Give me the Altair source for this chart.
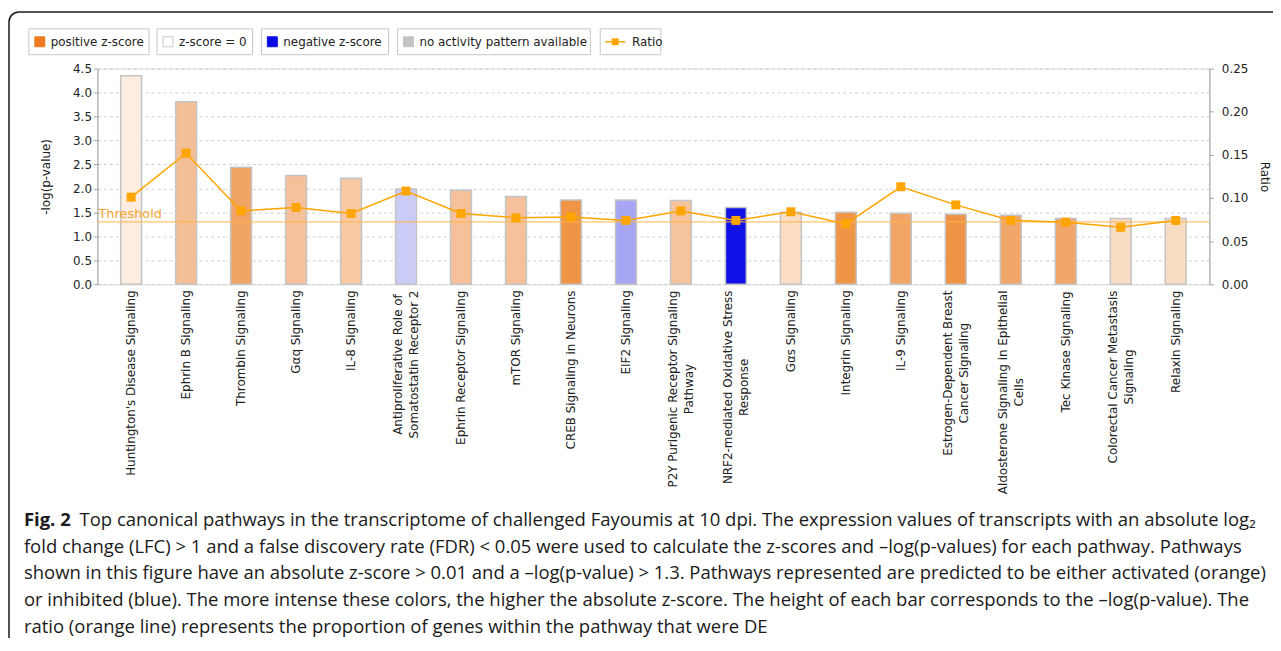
import altair as alt
import pandas as pd

# ---------------- data ----------------
pathways = [
    "Huntington's Disease Signaling", "Ephrin B Signaling", "Thrombin Signaling",
    "Gαq Signaling", "IL-8 Signaling",
    "Antiproliferative Role of\nSomatostatin Receptor 2", "Ephrin Receptor Signaling",
    "mTOR Signaling", "CREB Signaling in Neurons", "EIF2 Signaling",
    "P2Y Purigenic Receptor Signaling\nPathway", "NRF2-mediated Oxidative Stress\nResponse",
    "Gαs Signaling", "Integrin Signaling", "IL-9 Signaling",
    "Estrogen-Dependent Breast\nCancer Signaling", "Aldosterone Signaling in Epithelial\nCells",
    "Tec Kinase Signaling", "Colorectal Cancer Metastasis\nSignaling", "Relaxin Signaling",
]
neg_log_p = [4.35, 3.81, 2.44, 2.27, 2.21, 1.99, 1.96, 1.83, 1.76, 1.76,
             1.75, 1.60, 1.50, 1.50, 1.48, 1.46, 1.44, 1.37, 1.37, 1.37]
ratio = [0.101, 0.152, 0.085, 0.089, 0.082, 0.108, 0.082, 0.077, 0.078, 0.074,
         0.085, 0.074, 0.084, 0.070, 0.113, 0.092, 0.074, 0.072, 0.066, 0.074]
bar_colors = ["#fdece0", "#f5bf96", "#f0a466", "#f5c09a", "#f7c9a5",
              "#cbcbf7", "#f5c09a", "#f5c09a", "#ef9545", "#a6a6f4",
              "#f5c39c", "#1010e8", "#fbddc5", "#ef9548", "#f1a668",
              "#ef9447", "#f1a66a", "#f1a66a", "#f9dcc4", "#f9dcc4"]
threshold = [1.3]
y_ticks = [0.0, 0.5, 1.0, 1.5, 2.0, 2.5, 3.0, 3.5, 4.0, 4.5]
ratio_ticks = [0.0, 0.05, 0.10, 0.15, 0.20, 0.25]

legend_labels = ["positive z-score", "z-score = 0", "negative z-score",
                 "no activity pattern available", "Ratio"]
legend_colors = ["#ee7a20", "#ffffff", "#0a0ae6", "#c3c3c3", "#ffa500"]

caption_bold = "Fig. 2"
caption_lines = [
    "Top canonical pathways in the transcriptome of challenged Fayoumis at 10 dpi. The expression values of transcripts with an absolute log₂",
    "fold change (LFC) > 1 and a false discovery rate (FDR) < 0.05 were used to calculate the z-scores and –log(p-values) for each pathway. Pathways",
    "shown in this figure have an absolute z-score > 0.01 and a –log(p-value) > 1.3. Pathways represented are predicted to be either activated (orange)",
    "or inhibited (blue). The more intense these colors, the higher the absolute z-score. The height of each bar corresponds to the –log(p-value). The",
    "ratio (orange line) represents the proportion of genes within the pathway that were DE",
]

# ---------------- layout ----------------
W, H = 1119, 217
PADL, PADT = 90, 59
TOTAL_W, TOTAL_H = 1273, 630
FONT = "DejaVu Sans"
CAP_FONT = "Open Sans"
CAP_SIZE = 18.6

_w = {" ": .318, "'": .275, "(": .390, ")": .390, "-": .361, ".": .318,
      "A": .684, "B": .686, "C": .698, "D": .770, "E": .632, "F": .575, "G": .775,
      "H": .752, "I": .295, "K": .656, "L": .557, "M": .863, "N": .748, "O": .787,
      "P": .603, "R": .695, "S": .635, "T": .611, "Y": .611,
      "a": .613, "b": .635, "c": .550, "d": .635, "e": .615, "f": .352, "g": .635,
      "h": .634, "i": .278, "k": .579, "l": .278, "m": .974, "n": .634, "o": .612,
      "p": .635, "q": .635, "r": .411, "s": .521, "t": .392, "u": .634, "v": .592,
      "w": .818, "x": .592, "y": .592, "z": .525, "α": .659}


def text_width(s, size):
    return sum(_w.get(c, .636) for c in s) * size


df = pd.DataFrame({"pathway": pathways, "nlp": neg_log_p, "ratio": ratio, "color": bar_colors})
df["label_y"] = [H + 6 + max(text_width(l, 12) for l in p.split("\n")) / 2 for p in pathways]
df["nlines"] = [len(p.split("\n")) for p in pathways]

x_enc = alt.X("pathway:N", sort=pathways, axis=None,
              scale=alt.Scale(paddingInner=0, paddingOuter=0.113))

one = pd.DataFrame({"a": [0]})

# frame
frame = alt.Chart(one).mark_rect(fillOpacity=0, stroke="#1a1a1a", strokeWidth=1.5,
                                 cornerRadius=10).encode(
    x=alt.value(-89), x2=alt.value(1300), y=alt.value(-57), y2=alt.value(620))

# bars + threshold (all sharing the left axis)
left_axis = alt.Axis(title="-log(p-value)", values=y_ticks, tickCount=10, format=".1f",
                     labelOverlap=False,
                     grid=True, gridDash=[3, 3], gridColor="#cfcfcf",
                     domainColor="#a0a0a0", tickColor="#a0a0a0", tickSize=4,
                     labelFont=FONT, labelFontSize=12, labelColor="#222",
                     labelPadding=2, titleFont=FONT, titleFontSize=12,
                     titleFontWeight="normal", titleColor="#222",
                     titleAngle=270, titleX=-52, titleY=H / 2,
                     titleAlign="center", titleBaseline="middle")
left_scale = alt.Scale(domain=[0, 4.5], nice=False)

bars = alt.Chart(df).mark_bar(size=21, stroke="#c4c4c4", strokeWidth=1.5).encode(
    x=x_enc,
    y=alt.Y("nlp:Q", scale=left_scale, axis=left_axis),
    color=alt.Color("color:N", scale=None),
)
thr_df = pd.DataFrame({"thr": threshold})
thr_rule = alt.Chart(thr_df).mark_rule(color="#ffb447", strokeWidth=1).encode(
    y=alt.Y("thr:Q", scale=left_scale, axis=left_axis))
thr_text = alt.Chart(thr_df).mark_text(align="left", baseline="bottom", font=FONT,
                                       fontSize=13, color="#f7a632", dy=-1).encode(
    x=alt.value(1), y=alt.Y("thr:Q", scale=left_scale, axis=left_axis),
    text=alt.value("Threshold"))
layer_a = alt.layer(bars, thr_rule, thr_text)

# ratio line
ratio_y = alt.Y("ratio:Q", scale=alt.Scale(domain=[0, 0.25], nice=False),
                axis=alt.Axis(orient="right", title="Ratio", values=ratio_ticks, tickCount=6,
                              format=".2f", grid=False, labelOverlap=False,
                              domainColor="#a0a0a0",
                              tickColor="#a0a0a0", tickSize=4, labelFont=FONT,
                              labelFontSize=12, labelColor="#222", labelPadding=8,
                              titleFont=FONT, titleFontSize=12, titleFontWeight="normal",
                              titleColor="#222", titleAngle=90, titleX=55,
                              titleY=H / 2, titleAlign="center", titleBaseline="middle"))
line = alt.Chart(df).mark_line(color="#ffa500", strokeWidth=1.5).encode(x=x_enc, y=ratio_y)
pts = alt.Chart(df).mark_point(shape="square", filled=True, size=81, color="#ffa500",
                               opacity=1).encode(x=x_enc, y=ratio_y)
layer_b = alt.layer(line, pts)

# category labels (one-line and two-line separately, two-line block centred)
lab_props = dict(angle=270, align="center", baseline="middle", lineBreak="\n", font=FONT,
                 fontSize=12, lineHeight=16, color="#222")
labels1 = alt.Chart(df).transform_filter("datum.nlines == 1").mark_text(**lab_props).encode(
    x=x_enc, y=alt.Y("label_y:Q", scale=None), text="pathway:N")
labels2 = alt.Chart(df).transform_filter("datum.nlines == 2").mark_text(dy=-8, **lab_props).encode(
    x=x_enc, y=alt.Y("label_y:Q", scale=None), text="pathway:N")
labels = alt.layer(labels1, labels2)

# legend
leg_boxes = [(29, 150), (158, 254), (263, 391), (400, 594), (604, 665)]
leg_layers = []
for lab, col, (bx0, bx1) in zip(legend_labels, legend_colors, leg_boxes):
    lx, rx = bx0 - 98, bx1 - 98
    is_ratio = lab == "Ratio"
    sw = 27 if is_ratio else 17
    leg_layers.append(alt.Chart(one).mark_rect(fill="white", stroke="#c8c8c8", strokeWidth=1).encode(
        x=alt.value(lx), x2=alt.value(rx), y=alt.value(-40), y2=alt.value(-14)))
    if is_ratio:
        leg_layers.append(alt.Chart(one).mark_rule(color=col, strokeWidth=1.5).encode(
            x=alt.value(lx + 5), x2=alt.value(lx + 25), y=alt.value(-27)))
        leg_layers.append(alt.Chart(one).mark_point(shape="square", filled=True, size=49,
                                                    color=col, opacity=1).encode(
            x=alt.value(lx + 15), y=alt.value(-27)))
    else:
        leg_layers.append(alt.Chart(one).mark_rect(fill=col, stroke="#c8c8c8" if col == "#ffffff" else col,
                                                   strokeWidth=1).encode(
            x=alt.value(lx + 6), x2=alt.value(lx + 16), y=alt.value(-32), y2=alt.value(-22)))
    leg_layers.append(alt.Chart(one).mark_text(align="left", baseline="middle", font=FONT,
                                               fontSize=12, color="#222").encode(
        x=alt.value(lx + sw + 5), y=alt.value(-27), text=alt.value(lab)))

# caption
cap_layers = []
cap_x = -74
cap_y0, cap_dy = 454, 27
cap_layers.append(alt.Chart(one).mark_text(align="left", baseline="middle", font=CAP_FONT,
                                           fontSize=CAP_SIZE, fontWeight="bold", color="#1a1a1a").encode(
    x=alt.value(cap_x), y=alt.value(cap_y0), text=alt.value(caption_bold)))
for i, ln in enumerate(caption_lines):
    cap_layers.append(alt.Chart(one).mark_text(align="left", baseline="middle", font=CAP_FONT,
                                               fontSize=CAP_SIZE, color="#1a1a1a").encode(
        x=alt.value(cap_x + (56 if i == 0 else 0)), y=alt.value(cap_y0 + i * cap_dy),
        text=alt.value(ln)))

chart = alt.layer(frame, layer_a, layer_b, labels, *leg_layers, *cap_layers).resolve_scale(
    y="independent"
).properties(
    width=W, height=H,
    autosize=alt.AutoSizeParams(type="none"),
    padding={"left": PADL, "top": PADT, "right": TOTAL_W - PADL - W,
             "bottom": TOTAL_H - PADT - H},
).configure_view(stroke="#a8a8a8", strokeWidth=1).configure(font=FONT)

chart.save("out.html", embed_options={"renderer": "svg", "actions": False})
